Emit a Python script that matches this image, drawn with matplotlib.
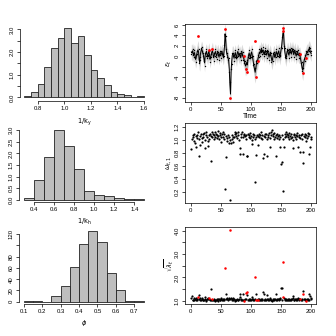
import numpy as np
import matplotlib
matplotlib.use("Agg")
import matplotlib.pyplot as plt

plt.rcParams['font.family'] = ['Liberation Sans', 'DejaVu Sans']
plt.rcParams['mathtext.fontset'] = 'dejavusans'

# histogram of 1/k_y (density, bins of 0.05)
ky_edges = [0.70, 0.75, 0.80, 0.85, 0.90, 0.95, 1.00, 1.05, 1.10, 1.15, 1.20,
            1.25, 1.30, 1.35, 1.40, 1.45, 1.50, 1.55, 1.60]
ky_dens = [0.04, 0.22, 0.57, 1.32, 2.19, 2.60, 3.05, 2.38, 2.69, 1.85, 1.19,
           0.84, 0.53, 0.22, 0.13, 0.09, 0.0, 0.04]

# histogram of 1/k_h (density, bins of 0.1)
kh_edges = [0.3, 0.4, 0.5, 0.6, 0.7, 0.8, 0.9, 1.0, 1.1, 1.2, 1.3, 1.4, 1.5]
kh_dens = [0.09, 0.84, 1.83, 3.02, 2.34, 1.34, 0.375, 0.19, 0.14, 0.06, 0.015, 0.02]

# histogram of phi (counts, bins of 0.05)
phi_edges = [0.10, 0.15, 0.20, 0.25, 0.30, 0.35, 0.40, 0.45, 0.50, 0.55, 0.60,
             0.65, 0.70, 0.75]
phi_count = [1, 1, 0, 10, 28, 61, 103, 126, 105, 51, 21, 2, 2]

time = np.arange(1, 201)

eps_med = [
    0.8, 0.6, 1.0, 0.5, 0.3, 0.7, 0.2, -0.6, -0.3, 0.4,
    0.9, 1.2, 0.8, -0.8, -1.2, 0.3, 1.0, 1.4, 1.1, 0.6,
    0.2, -0.5, -1.3, 0.1, 0.6, 0.9, 0.3, -0.2, 0.5, 0.9,
    0.4, -0.6, -0.2, 0.3, 0.8, 1.0, 0.5, -0.3, 0.1, 0.6,
    0.9, 0.4, 0.0, 0.5, 0.8, 0.3, -0.2, 0.4, 0.7, 0.2,
    0.5, 0.9, 0.3, -0.1, 0.6, 1.8, 4.3, 3.2, 1.2, 0.4,
    0.1, -0.3, -0.9, -2.5, -5.5, -7.3, -3.0, -1.0, 0.2, 0.5,
    0.2, -0.4, 0.3, 0.7, 0.1, -0.5, 0.4, 0.9, 0.6, 0.0,
    0.5, 0.2, -0.3, 0.4, 0.8, 0.3, -0.2, -0.4, -0.9, -1.5,
    -1.9, -1.6, -1.2, -1.7, -0.6, 0.2, 0.6, 0.1, -0.3, 0.4,
    0.8, 0.3, -0.5, -1.2, -2.0, -2.6, -3.1, -2.4, -1.5, -0.8,
    -0.9, -0.3, 0.3, 0.8, 0.5, 1.0, 1.3, 0.7, 0.9, 1.2,
    0.6, 0.3, 0.9, 1.1, 0.5, 0.2, 0.7, 1.0, 0.4, -0.2,
    0.3, 0.7, 0.1, -0.6, -1.0, -0.4, 0.2, 0.6, 0.3, -0.3,
    0.4, 0.9, 0.5, 0.1, 0.6, 1.0, 0.4, -0.2, 0.5, 1.2,
    2.0, 3.2, 4.4, 4.6, 2.5, 1.0, 0.3, -0.5, 0.2, 0.9,
    1.2, 0.6, 0.2, 0.8, 1.3, 1.0, 0.4, 0.9, 1.4, 0.8,
    0.3, 0.7, 1.1, 0.5, 0.0, 0.4, 0.9, 0.6, 0.2, 0.1,
    0.3, -0.3, -0.9, -1.6, -2.3, -2.7, -1.8, -1.0, -0.5, -0.2,
    0.1, 0.5, 0.9, 0.6, 1.0, 1.3, 1.5, 1.1, 0.7, 0.5,
]

eps_obs = [
    0.5, 1.0, 1.3, 0.2, -0.2, 1.1, -0.3, -1.2, 0.2, 0.9,
    0.4, 3.9, 1.3, -1.4, -0.7, -0.2, 1.6, 1.0, 1.7, 0.1,
    0.7, -1.0, -1.9, 0.6, 0.1, 1.4, -0.3, 0.3, 0.0, 1.2,
    0.9, -1.1, 0.4, -0.2, 1.3, 1.4, 0.0, -0.9, 0.6, 0.1,
    1.4, -0.1, -0.5, 1.0, 0.3, 0.8, -0.7, 0.9, 0.2, -0.3,
    1.0, 0.4, -0.2, 0.4, 0.1, 2.1, 5.2, 3.9, 1.4, -0.1,
    0.6, -0.8, -0.3, -3.1, -5.0, -8.1, -2.4, -1.6, 0.7, 0.0,
    0.7, -0.9, -0.2, 1.2, -0.4, 0.0, -0.1, 1.4, 0.1, 0.5,
    0.0, 0.7, -0.8, 0.9, 0.3, 0.8, -0.7, 0.0, -1.4, -1.0,
    -2.5, -2.4, -0.7, -3.1, -0.1, -0.3, 1.1, -0.4, 0.2, -0.1,
    1.3, -0.2, 0.0, -1.7, -1.5, -2.2, 3.0, -4.0, -1.0, -1.3,
    -1.0, 0.2, -0.2, 1.3, 0.0, 1.5, 0.8, 1.2, 0.4, 1.7,
    0.1, 0.8, 0.4, 1.6, 1.0, -0.3, 1.2, 0.5, 0.9, -0.7,
    0.8, 0.2, 0.6, -1.1, -0.5, -0.9, 0.7, 0.1, 0.8, 0.2,
    -0.1, 1.4, 0.0, 0.6, 0.1, 1.5, -0.1, 0.3, 0.0, 1.7,
    1.5, 3.7, 4.8, 5.5, 2.0, 1.5, -0.2, 0.0, -0.3, 1.4,
    0.7, 1.1, -0.3, 1.3, 0.8, 1.5, -0.1, 1.4, 0.9, 1.3,
    -0.2, 1.2, 0.6, 1.0, -0.5, 0.9, 0.4, 1.1, -0.3, 0.6,
    0.4, 0.2, -1.4, -1.1, -2.8, -3.3, -2.3, -0.5, -1.0, 0.3,
    -0.3, 1.0, 0.4, 1.1, 0.5, 1.8, 1.0, 1.6, 0.2, 1.0,
]

# half-widths of the inner and outer bands around the median
band_inner = [
    0.7, 0.7, 0.7, 0.7, 0.7, 0.7, 0.8, 0.8, 0.8, 0.7, 0.7, 0.9, 0.8, 0.8, 0.8, 0.7, 0.7, 0.7, 0.7, 0.7,
    0.7, 0.7, 0.8, 0.7, 0.7, 0.7, 0.7, 0.7, 0.7, 0.8, 0.7, 0.8, 0.7, 0.7, 0.7, 0.8, 0.7, 0.7, 0.7, 0.7,
    0.7, 0.7, 0.7, 0.7, 0.7, 0.7, 0.7, 0.7, 0.7, 0.7, 0.7, 0.7, 0.7, 0.7, 0.8, 0.9, 1.0, 1.1, 1.0, 0.8,
    0.7, 0.7, 0.8, 0.9, 1.0, 1.1, 1.0, 0.9, 0.8, 0.7, 0.7, 0.7, 0.7, 0.7, 0.7, 0.7, 0.7, 0.7, 0.7, 0.7,
    0.7, 0.7, 0.7, 0.7, 0.7, 0.7, 0.7, 0.8, 0.8, 0.9, 0.9, 0.9, 0.9, 0.9, 0.8, 0.7, 0.7, 0.7, 0.7, 0.7,
    0.7, 0.7, 0.8, 0.8, 0.9, 1.0, 1.0, 0.9, 0.9, 0.8, 0.8, 0.7, 0.7, 0.7, 0.7, 0.7, 0.7, 0.7, 0.7, 0.7,
    0.7, 0.7, 0.7, 0.7, 0.7, 0.7, 0.7, 0.7, 0.7, 0.7, 0.7, 0.7, 0.7, 0.7, 0.7, 0.7, 0.7, 0.7, 0.7, 0.7,
    0.7, 0.7, 0.7, 0.7, 0.7, 0.7, 0.7, 0.7, 0.7, 0.7, 0.8, 0.9, 1.0, 1.1, 1.0, 0.9, 0.8, 0.7, 0.7, 0.7,
    0.7, 0.7, 0.7, 0.7, 0.7, 0.7, 0.7, 0.7, 0.7, 0.7, 0.7, 0.7, 0.7, 0.7, 0.7, 0.7, 0.7, 0.7, 0.7, 0.7,
    0.7, 0.7, 0.8, 0.9, 0.9, 1.0, 0.9, 0.8, 0.7, 0.7, 0.7, 0.7, 0.7, 0.7, 0.7, 0.7, 0.7, 0.7, 0.7, 0.7,
]
band_outer = [
    1.5, 1.5, 1.5, 1.5, 1.5, 1.6, 1.7, 1.7, 1.6, 1.5, 1.5, 1.8, 1.7, 1.7, 1.7, 1.5, 1.5, 1.5, 1.5, 1.5,
    1.5, 1.6, 1.7, 1.6, 1.5, 1.5, 1.5, 1.5, 1.5, 1.7, 1.5, 1.7, 1.5, 1.5, 1.5, 1.7, 1.5, 1.5, 1.5, 1.5,
    1.5, 1.5, 1.5, 1.5, 1.5, 1.5, 1.5, 1.5, 1.5, 1.5, 1.5, 1.5, 1.5, 1.6, 1.7, 1.9, 2.2, 2.3, 2.0, 1.7,
    1.5, 1.6, 1.7, 1.9, 2.1, 2.3, 2.1, 1.9, 1.7, 1.5, 1.5, 1.5, 1.5, 1.5, 1.5, 1.5, 1.5, 1.5, 1.5, 1.5,
    1.5, 1.5, 1.5, 1.5, 1.5, 1.5, 1.6, 1.7, 1.7, 1.8, 1.9, 1.9, 1.9, 1.9, 1.7, 1.5, 1.5, 1.5, 1.5, 1.5,
    1.5, 1.5, 1.6, 1.7, 1.9, 2.1, 2.1, 2.0, 1.9, 1.7, 1.7, 1.5, 1.5, 1.5, 1.5, 1.5, 1.5, 1.5, 1.5, 1.5,
    1.5, 1.5, 1.5, 1.5, 1.5, 1.5, 1.5, 1.5, 1.5, 1.5, 1.5, 1.5, 1.5, 1.6, 1.6, 1.5, 1.5, 1.5, 1.5, 1.5,
    1.5, 1.5, 1.5, 1.5, 1.5, 1.5, 1.5, 1.5, 1.5, 1.6, 1.8, 2.0, 2.2, 2.3, 2.1, 1.9, 1.7, 1.5, 1.5, 1.5,
    1.5, 1.5, 1.5, 1.5, 1.5, 1.5, 1.5, 1.5, 1.5, 1.5, 1.5, 1.5, 1.5, 1.5, 1.5, 1.5, 1.5, 1.5, 1.5, 1.5,
    1.5, 1.6, 1.7, 1.8, 1.9, 2.0, 1.9, 1.7, 1.6, 1.5, 1.5, 1.5, 1.5, 1.5, 1.5, 1.5, 1.5, 1.5, 1.5, 1.5,
]

omega = [
    0.86, 1.02, 1.08, 1.05, 0.99, 1.10, 0.95, 1.06, 0.90, 1.03,
    1.08, 1.12, 1.01, 0.75, 0.92, 1.06, 1.10, 1.03, 0.97, 1.09,
    1.04, 1.11, 0.87, 1.00, 1.07, 1.13, 1.05, 0.98, 0.91, 1.08,
    1.02, 1.10, 0.68, 1.06, 1.12, 1.04, 1.09, 1.01, 1.07, 1.13,
    1.05, 1.10, 1.03, 1.08, 1.14, 1.06, 1.02, 1.11, 1.07, 1.04,
    0.97, 1.09, 1.12, 1.05, 1.01, 1.10, 0.25, 0.74, 1.06, 1.03,
    0.99, 1.08, 0.95, 1.04, 1.00, 0.08, 0.96, 1.02, 1.07, 1.05,
    0.97, 1.04, 1.10, 1.13, 1.06, 1.11, 1.03, 1.08, 1.12, 1.00,
    0.87, 0.78, 1.05, 1.09, 1.12, 1.04, 0.78, 1.08, 1.10, 1.06,
    1.02, 1.07, 0.76, 0.75, 1.10, 1.05, 1.08, 1.03, 1.11, 1.06,
    1.00, 0.94, 1.09, 1.04, 1.07, 1.02, 0.35, 1.05, 0.77, 1.08,
    0.93, 1.06, 1.10, 1.04, 1.08, 1.12, 1.03, 1.07, 1.01, 0.73,
    0.79, 1.06, 1.10, 1.04, 1.09, 1.02, 0.76, 1.08, 1.05, 1.11,
    1.03, 0.90, 1.07, 1.12, 1.15, 1.06, 1.09, 1.02, 1.11, 1.05,
    1.08, 0.76, 1.03, 1.10, 1.06, 1.01, 1.08, 0.90, 1.04, 0.63,
    1.07, 0.66, 1.02, 0.21, 0.90, 1.05, 1.09, 1.13, 1.06, 1.10,
    1.04, 1.08, 1.01, 1.11, 1.06, 1.03, 1.09, 1.05, 1.00, 0.87,
    1.07, 1.10, 1.04, 1.08, 1.02, 1.06, 1.11, 0.90, 1.05, 1.08,
    0.81, 1.03, 1.07, 1.02, 1.09, 0.81, 0.65, 1.06, 1.10, 1.04,
    0.99, 1.07, 1.03, 1.11, 1.06, 1.09, 0.79, 0.90, 1.05, 1.02,
]

sqrt_lam = [
    1.12, 1.21, 1.03, 1.05, 1.10, 1.02, 1.08, 1.04, 1.13, 1.06,
    1.03, 1.15, 1.07, 1.26, 1.10, 1.04, 1.02, 1.06, 1.11, 1.03,
    1.05, 1.02, 1.14, 1.08, 1.04, 1.01, 1.06, 1.09, 1.13, 1.12,
    1.07, 1.03, 1.49, 1.05, 1.02, 1.08, 1.04, 1.06, 1.03, 1.01,
    1.05, 1.03, 1.07, 1.04, 1.01, 1.06, 1.09, 1.02, 1.04, 1.07,
    1.11, 1.04, 1.02, 1.06, 1.09, 1.05, 2.41, 1.31, 1.06, 1.08,
    1.10, 1.04, 1.12, 1.07, 1.09, 4.02, 1.11, 1.06, 1.03, 1.05,
    1.10, 1.06, 1.03, 1.01, 1.05, 1.02, 1.07, 1.04, 1.02, 1.09,
    1.17, 1.27, 1.06, 1.03, 1.02, 1.05, 1.29, 1.00, 1.03, 1.07,
    1.08, 1.32, 1.25, 1.37, 1.03, 1.06, 1.04, 1.08, 1.02, 1.05,
    1.09, 1.14, 1.03, 1.07, 1.05, 1.08, 2.00, 1.05, 1.27, 1.04,
    1.05, 1.06, 1.03, 1.07, 1.04, 1.02, 1.08, 1.05, 1.09, 1.36,
    1.29, 1.05, 1.03, 1.07, 1.04, 1.08, 1.26, 1.05, 1.06, 1.02,
    1.07, 1.13, 1.04, 1.02, 1.01, 1.06, 1.04, 1.09, 1.02, 1.07,
    1.05, 1.29, 1.08, 1.03, 1.06, 1.09, 1.04, 1.13, 1.07, 1.54,
    1.05, 1.54, 1.18, 2.65, 1.12, 1.06, 1.04, 1.02, 1.07, 1.03,
    1.06, 1.04, 1.09, 1.02, 1.05, 1.08, 1.03, 1.06, 1.10, 1.21,
    1.05, 1.03, 1.07, 1.04, 1.09, 1.06, 1.02, 1.13, 1.07, 1.05,
    1.08, 1.06, 1.04, 1.09, 1.05, 1.29, 1.40, 1.06, 1.03, 1.07,
    1.00, 1.05, 1.08, 1.03, 1.06, 1.04, 1.29, 1.20, 1.07, 1.10,
]

# time points flagged as outliers (drawn red)
outlier_t = [12, 30, 36, 57, 66, 88, 92, 94, 107, 108, 111, 153, 154, 181, 186, 191]

W, H = 336, 336
FS = 4.3


def rect(x0, x1, y0, y1):
    # pixel box -> figure fraction
    return [x0 / W, 1 - y1 / H, (x1 - x0) / W, (y1 - y0) / H]


def style_ticks(ax):
    ax.tick_params(axis='both', direction='out', length=2.2, width=0.5,
                   labelsize=FS, pad=1.6, colors='black')
    for lab in ax.get_yticklabels():
        lab.set_rotation(90)
        lab.set_va('center')


def hist_panel(box, edges, heights, xlim, ylim, xticks, yticks, ylabels, xlabel, xlab_y):
    ax = fig.add_axes(rect(*box))
    edges = np.array(edges)
    ax.bar(edges[:-1], heights, width=np.diff(edges), align='edge',
           color='#BEBEBE', edgecolor='#222222', linewidth=0.6)
    ax.set_xlim(*xlim)
    ax.set_ylim(*ylim)
    for s in ['top', 'right']:
        ax.spines[s].set_visible(False)
    for s in ['left', 'bottom']:
        ax.spines[s].set_linewidth(0.5)
    ax.spines['bottom'].set_bounds(xticks[0], xticks[-1])
    ax.spines['left'].set_bounds(yticks[0], yticks[-1])
    ax.set_xticks(xticks)
    ax.set_xticklabels([f"{v:g}" if v != 1 else "1.0" for v in xticks])
    ax.set_yticks(yticks)
    ax.set_yticklabels(ylabels)
    style_ticks(ax)
    fig.text(84 / W, 1 - xlab_y / H, xlabel, fontsize=FS + 0.5, ha='center', va='center')
    return ax


def box_panel(box, ylim, yticks, ylabels, ylabel):
    ax = fig.add_axes(rect(*box))
    ax.set_xlim(-9.5, 208)
    ax.set_ylim(*ylim)
    for s in ax.spines.values():
        s.set_linewidth(0.5)
    ax.set_xticks([0, 50, 100, 150, 200])
    ax.set_yticks(yticks)
    ax.set_yticklabels(ylabels)
    style_ticks(ax)
    ybox = (box[2] + box[3]) / 2
    fig.text(169 / W, 1 - ybox / H, ylabel, fontsize=FS + 0.5, ha='center', va='center', rotation=90)
    return ax


fig = plt.figure(figsize=(W / 100, H / 100), dpi=100)

# left column: histograms
hist_panel((19.6, 148.8, 26.6, 101.0), ky_edges, ky_dens, (0.664, 1.636), (-0.16, 3.12),
           [0.8, 1.0, 1.2, 1.4, 1.6], [0, 0.5, 1.0, 1.5, 2.0, 2.5, 3.0],
           ['0.0', '', '1.0', '', '2.0', '', '3.0'], r'$\mathrm{1/k_y}$', 122)
hist_panel((18.8, 149.2, 127.0, 202.0), kh_edges, kh_dens, (0.252, 1.548), (-0.10, 3.14),
           [0.4, 0.6, 0.8, 1.0, 1.2, 1.4], [0, 0.5, 1.0, 1.5, 2.0, 2.5, 3.0],
           ['0.0', '0.5', '1.0', '1.5', '2.0', '2.5', '3.0'], r'$\mathrm{1/k_h}$', 222)
hist_panel((18.9, 148.3, 227.8, 304.0), phi_edges, phi_count, (0.074, 0.776), (-4.1, 131),
           [0.1, 0.2, 0.3, 0.4, 0.5, 0.6, 0.7], [0, 20, 40, 60, 80, 100, 120],
           ['0', '20', '40', '60', '80', '', '120'], r'$\phi$', 323)

is_out = np.isin(time, outlier_t)
med = np.array(eps_med)
obs = np.array(eps_obs)
inner = np.array(band_inner)
outer = np.array(band_outer)

# top right: observations with posterior bands
ax = box_panel((185, 316, 24, 101.7), (-8.77, 6.19), [-8, -6, -4, -2, 0, 2, 4, 6],
               ['-8', '', '-4', '', '0', '2', '4', '6'], r'$\epsilon_t$')
ax.fill_between(time, med - outer, med + outer, color='#DADADA', lw=0)
ax.fill_between(time, med - inner, med + inner, color='#B0B0B0', lw=0)
ax.plot(time, med, color='black', lw=0.7)
ax.plot(time[~is_out], obs[~is_out], 'o', color='black', ms=1.0, mew=0)
ax.plot(time[is_out], obs[is_out], 'o', color='red', ms=2.0, mew=0)
fig.text(250 / W, 1 - 116 / H, 'Time', fontsize=FS + 0.5, ha='center', va='center')

# middle right: omega
ax = box_panel((185, 316, 123, 202.7), (0.035, 1.262), [0.2, 0.4, 0.6, 0.8, 1.0, 1.2],
               ['0.2', '0.4', '0.6', '0.8', '1.0', '1.2'], r'$\omega_{t,1}$')
ax.plot(time, omega, 'o', color='black', ms=1.6, mew=0)

# bottom right: sqrt(lambda)
lam = np.array(sqrt_lam)
ax = box_panel((185, 316, 227, 304), (0.86, 4.16), [1.0, 1.5, 2.0, 2.5, 3.0, 3.5, 4.0],
               ['1.0', '', '2.0', '', '3.0', '', '4.0'], r'$\sqrt{\lambda_t}$')
ax.plot(time[~is_out], lam[~is_out], 'o', color='black', ms=1.6, mew=0)
ax.plot(time[is_out], lam[is_out], 'o', color='red', ms=1.8, mew=0)

fig.savefig('out.png', dpi=100)
